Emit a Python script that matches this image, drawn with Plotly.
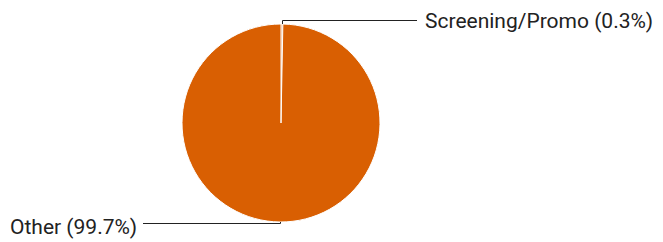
import math
import plotly.graph_objects as go

labels = ["Screening/Promo", "Other"]
values = [0.3, 99.7]
colors = ["#d95f02", "#d95f02"]

W, H = 663, 242
cx, cy, r = 281, 123, 99  # pixel geometry of the pie

fig = go.Figure(go.Pie(
    labels=labels, values=values, sort=False, direction="clockwise",
    rotation=0, textinfo="none", hoverinfo="label+percent",
    marker=dict(colors=colors, line=dict(color="white", width=1)),
    domain=dict(x=[(cx - r) / W, (cx + r) / W], y=[1 - (cy + r) / H, 1 - (cy - r) / H]),
    showlegend=False,
))

def px(x):
    return x / W

def py(y):
    return 1 - y / H

total = sum(values)
cum = 0
shapes, annos = [], []
# label layout: (elbow y, horizontal end x, text x, text y, anchor)
layout_pos = {
    "Screening/Promo": (20.5, 417, 423, 20.5, "left"),
    "Other": (223.5, 143, 139, 227, "right"),
}
for lab, v in zip(labels, values):
    mid = (cum + v / 2) / total * 2 * math.pi
    cum += v
    ax = cx + r * math.sin(mid)
    ay = cy - r * math.cos(mid)
    ey, hx, tx, ty, anc = layout_pos[lab]
    ax = round(ax) + 0.5
    shapes.append(dict(type="line", xref="paper", yref="paper",
                       x0=px(ax), y0=py(ay), x1=px(ax), y1=py(ey),
                       line=dict(color="#222222", width=1)))
    shapes.append(dict(type="line", xref="paper", yref="paper",
                       x0=px(ax), y0=py(ey), x1=px(hx), y1=py(ey),
                       line=dict(color="#222222", width=1)))
    pct = v / total * 100
    annos.append(dict(xref="paper", yref="paper", x=px(tx), y=py(ty),
                      text=f"{lab} ({pct:.1f}%)", showarrow=False,
                      xanchor=anc, yanchor="middle",
                      font=dict(family="Roboto", size=21, color="#222222")))

fig.update_layout(width=W, height=H, margin=dict(l=0, r=0, t=0, b=0),
                  paper_bgcolor="white", plot_bgcolor="white",
                  shapes=shapes, annotations=annos)
fig.write_html("out.html", config={"displayModeBar": False},
               post_script="document.body.style.margin='0';document.body.style.padding='0';document.body.style.overflow='hidden';")
